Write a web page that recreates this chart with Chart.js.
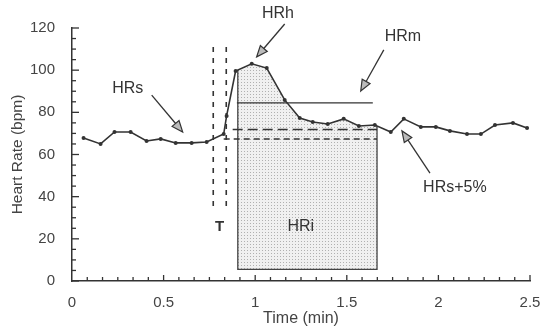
<!DOCTYPE html>
<html><head><meta charset="utf-8">
<script src="https://cdn.jsdelivr.net/npm/chart.js@4.4.0/dist/chart.umd.min.js"></script>
<style>html,body{margin:0;padding:0;background:#fff}#wrap{width:543px;height:328px}</style>
</head><body><div id="wrap"><canvas id="c" width="543" height="328"></canvas></div>
<script>
// ---- data ----
const timeMin   = [0.063,0.156,0.232,0.320,0.407,0.484,0.566,0.653,0.735,0.828,0.844,0.893,0.981,1.063,1.161,1.243,1.314,1.396,1.483,1.566,1.653,1.740,1.811,1.904,1.986,2.063,2.156,2.232,2.309,2.407,2.484];
const heartRate = [67.8,65.0,70.7,70.7,66.4,67.4,65.5,65.5,65.9,69.7,78.3,99.6,103.0,101.0,85.9,77.3,75.4,74.5,76.9,73.5,74.0,70.7,76.9,73.1,73.1,71.2,69.7,69.7,74.0,75.0,72.6];
const xTickValues = [0,0.5,1,1.5,2,2.5];
const yTickValues = [0,20,40,60,80,100,120];
// reference levels (bpm) and their time spans (min)
const hrsLevel = 67.4,  hrsSpan  = [0.828,1.665];
const hrs5Level = 71.8, hrs5Span = [0.877,1.665];
const hrmLevel = 84.5,  hrmSpan  = [0.900,1.642];
// HRi integration area
const hriSpan = [0.905,1.665], hriBase = 5.5;
// stimulus window T (min) and vertical extent (bpm)
const pulseTimes = [0.771,0.842], pulseRange = [35,111];
// text labels
const labelText = ['HRh','HRm','HRs','HRs+5%','T','HRi'];
const labelT    = [1.124,1.806,0.304,2.090,0.806,1.249];
const labelHR   = [126.7,115.7,91.1,44.1,25.6,25.6];
// arrows: from -> tip
const arrowFromT = [1.161,1.702,0.435,1.954];
const arrowFromHR= [121.9,109.6,88.2,51.2];
const arrowToT   = [1.008,1.576,0.604,1.801];
const arrowToHR  = [106.3,90.1,70.7,71.2];

const ink = '#333';
const FONT = '"Liberation Sans", Arial, Helvetica, sans-serif';

function interp(t){
  for(let i=0;i<timeMin.length-1;i++){
    if(t>=timeMin[i] && t<=timeMin[i+1]){
      const f=(t-timeMin[i])/(timeMin[i+1]-timeMin[i]);
      return heartRate[i]+f*(heartRate[i+1]-heartRate[i]);
    }
  }
  return heartRate[heartRate.length-1];
}

const pc=document.createElement('canvas');pc.width=3;pc.height=3;
const pg=pc.getContext('2d');pg.fillStyle='#f0f0f0';pg.fillRect(0,0,3,3);pg.fillStyle='#b0b0b0';pg.fillRect(1,1,1,1);

const deco = {
  id:'deco',
  beforeDatasetsDraw(chart){
    const {ctx, scales:{x,y}} = chart;
    const X=v=>x.getPixelForValue(v), Y=v=>y.getPixelForValue(v);
    ctx.save();
    // HRi area
    ctx.beginPath();
    ctx.moveTo(X(hriSpan[0]),Y(hriBase));
    ctx.lineTo(X(hriSpan[0]),Y(interp(hriSpan[0])));
    for(let i=0;i<timeMin.length;i++){
      if(timeMin[i]>hriSpan[0] && timeMin[i]<hriSpan[1]) ctx.lineTo(X(timeMin[i]),Y(heartRate[i]));
    }
    ctx.lineTo(X(hriSpan[1]),Y(interp(hriSpan[1])));
    ctx.lineTo(X(hriSpan[1]),Y(hriBase));
    ctx.closePath();
    ctx.fillStyle=ctx.createPattern(pc,'repeat');
    ctx.fill();
    ctx.beginPath();
    ctx.moveTo(X(hriSpan[0]),Y(interp(hriSpan[0])));
    ctx.lineTo(X(hriSpan[0]),Y(hriBase));
    ctx.lineTo(X(hriSpan[1]),Y(hriBase));
    ctx.lineTo(X(hriSpan[1]),Y(interp(hriSpan[1])));
    ctx.strokeStyle='#444';ctx.lineWidth=1.3;ctx.stroke();
    // level lines
    const hline=(lvl,span,dash,w)=>{ctx.beginPath();ctx.setLineDash(dash);ctx.lineWidth=w;ctx.strokeStyle=ink;
      ctx.moveTo(X(span[0]),Y(lvl));ctx.lineTo(X(span[1]),Y(lvl));ctx.stroke();};
    hline(hrmLevel,hrmSpan,[],1.2);
    hline(hrs5Level,hrs5Span,[10,5],1.5);
    hline(hrsLevel,hrsSpan,[6,4],1.5);
    // stimulus window
    ctx.setLineDash([5,6]);ctx.lineWidth=1.6;
    pulseTimes.forEach(t=>{ctx.beginPath();ctx.moveTo(X(t),Y(pulseRange[1]));ctx.lineTo(X(t),Y(pulseRange[0]));ctx.stroke();});
    ctx.restore();
  },
  afterDraw(chart){
    const {ctx, scales:{x,y}} = chart;
    const X=v=>x.getPixelForValue(v), Y=v=>y.getPixelForValue(v);
    ctx.save();
    ctx.strokeStyle=ink;ctx.lineWidth=1.3;ctx.setLineDash([]);
    // inward ticks
    const x0=X(0), y0=Y(0);
    for(let v=0; v<=y.max+1e-9; v+=5){
      const major = Math.abs(v%20)<1e-6;
      ctx.beginPath();ctx.moveTo(x0,Y(v));ctx.lineTo(x0+(major?7:4),Y(v));ctx.stroke();
    }
    for(let k=1; k/12<=x.max+1e-9; k++){
      const v=k/12; const major = Math.abs((v*2)-Math.round(v*2))<1e-6;
      ctx.beginPath();ctx.moveTo(X(v),y0);ctx.lineTo(X(v),y0-(major?6:4));ctx.stroke();
    }
    // arrows
    for(let i=0;i<arrowFromT.length;i++){
      const fx=X(arrowFromT[i]), fy=Y(arrowFromHR[i]), tx=X(arrowToT[i]), ty=Y(arrowToHR[i]);
      const a=Math.atan2(ty-fy,tx-fx), L=11, W=4.5;
      const bx=tx-L*Math.cos(a), by=ty-L*Math.sin(a);
      ctx.beginPath();ctx.moveTo(fx,fy);ctx.lineTo(bx,by);ctx.lineWidth=1.3;ctx.stroke();
      ctx.beginPath();ctx.moveTo(tx,ty);
      ctx.lineTo(bx+W*Math.sin(a),by-W*Math.cos(a));
      ctx.lineTo(bx-W*Math.sin(a),by+W*Math.cos(a));
      ctx.closePath();ctx.fillStyle='#bbb';ctx.fill();ctx.lineWidth=1.2;ctx.stroke();
    }
    // labels
    ctx.fillStyle=ink;ctx.textAlign='center';ctx.textBaseline='middle';
    for(let i=0;i<labelText.length;i++){
      ctx.font=(labelText[i]==='T'?'bold 15px ':'16px ')+FONT;
      ctx.fillText(labelText[i],X(labelT[i]),Y(labelHR[i]));
    }
    ctx.restore();
  }
};

new Chart(document.getElementById('c'),{
  type:'line',
  data:{datasets:[{
    data: timeMin.map((t,i)=>({x:t,y:heartRate[i]})),
    borderColor:ink, borderWidth:1.6, pointRadius:2, pointBackgroundColor:ink, pointBorderWidth:0,
    tension:0, fill:false
  }]},
  options:{
    responsive:false, animation:false,
    layout:{padding:{top:28,right:13,left:0,bottom:0}},
    plugins:{legend:{display:false},tooltip:{enabled:false}},
    scales:{
      x:{type:'linear',min:0,max:2.5,
        afterBuildTicks(s){s.ticks=xTickValues.map(v=>({value:v}));},
        afterFit(s){s.height=47;s.paddingLeft=0;s.paddingRight=0;},
        grid:{display:false,drawTicks:false},
        border:{display:true,color:ink,width:1.5},
        ticks:{padding:13,color:'#444',font:{size:15,family:FONT},maxRotation:0,autoSkip:false,callback:v=>String(v)},
        title:{display:true,text:'Time (min)',color:'#444',font:{size:16,family:FONT},padding:{top:0,bottom:0}}
      },
      y:{min:0,max:120,
        afterBuildTicks(s){s.ticks=yTickValues.map(v=>({value:v}));},
        afterFit(s){s.width=72;s.paddingTop=0;s.paddingBottom=0;},
        grid:{display:false,drawTicks:false},
        border:{display:true,color:ink,width:1.5},
        ticks:{padding:17,color:'#444',font:{size:15,family:FONT},callback:v=>String(v)},
        title:{display:true,text:'Heart Rate (bpm)',color:'#444',font:{size:15.5,family:FONT},padding:{top:8,bottom:0}}
      }
    }
  },
  plugins:[deco]
});
</script></body></html>
